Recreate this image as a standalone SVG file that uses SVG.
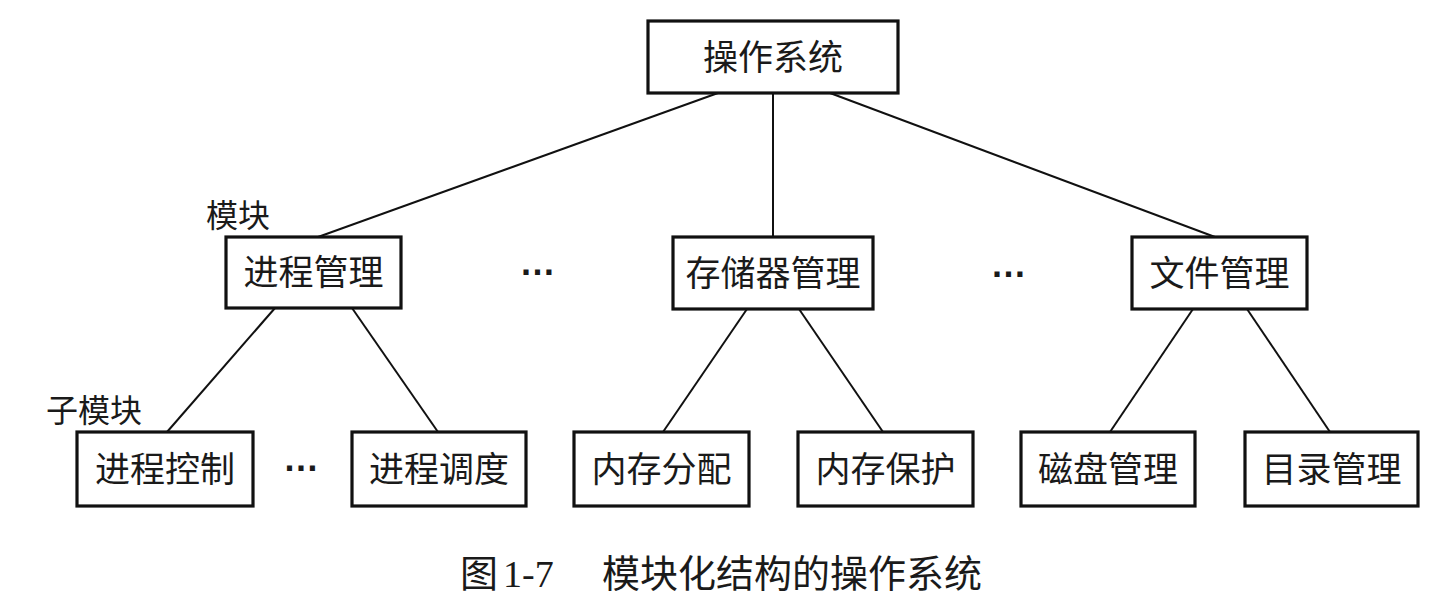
<svg xmlns="http://www.w3.org/2000/svg" width="1436" height="599" viewBox="0 0 1436 599">
  <style>
    .box { fill: #ffffff; stroke: #111111; stroke-width: 3.2; }
    .lbl { font-family: "Noto Sans CJK SC", "Noto Sans", sans-serif; font-size: 35px; fill: #1a1a1a; text-anchor: middle; }
    .tag { font-family: "Noto Sans CJK SC", "Noto Sans", sans-serif; font-size: 32px; fill: #1a1a1a; }
    .dots { font-family: "Liberation Sans", sans-serif; font-size: 36px; font-weight: bold; fill: #1a1a1a; text-anchor: middle; }
    .cap { font-family: "Noto Sans CJK SC", sans-serif; font-size: 38px; fill: #1a1a1a; }
    .capnum { font-family: "Liberation Serif", serif; font-size: 38px; fill: #1a1a1a; }
    .conn line { stroke: #111111; stroke-width: 2; }
  </style>
  <rect width="1436" height="599" fill="#ffffff"/>

  <g id="connectors" class="conn">
    <line x1="718" y1="93" x2="318" y2="237"/>
    <line x1="773" y1="93" x2="773" y2="237"/>
    <line x1="830" y1="93" x2="1215" y2="237"/>
    <line x1="275" y1="308" x2="167" y2="432"/>
    <line x1="352" y1="308" x2="438" y2="432"/>
    <line x1="747" y1="309" x2="663" y2="432"/>
    <line x1="799" y1="309" x2="883" y2="432"/>
    <line x1="1193" y1="309" x2="1110" y2="432"/>
    <line x1="1247" y1="309" x2="1330" y2="432"/>
  </g>

  <g id="os">
    <rect class="box" x="648" y="21" width="250" height="72"/>
    <text class="lbl" x="773" y="70">操作系统</text>
  </g>

  <g id="process-mgmt">
    <rect class="box" x="226" y="237" width="175" height="71"/>
    <text class="lbl" x="313.5" y="285">进程管理</text>
  </g>
  <g id="memory-mgmt">
    <rect class="box" x="673" y="237" width="200" height="72"/>
    <text class="lbl" x="773" y="286">存储器管理</text>
  </g>
  <g id="file-mgmt">
    <rect class="box" x="1132" y="237" width="175" height="72"/>
    <text class="lbl" x="1219.5" y="286">文件管理</text>
  </g>

  <g id="process-control">
    <rect class="box" x="77" y="432" width="176" height="74"/>
    <text class="lbl" x="165" y="482">进程控制</text>
  </g>
  <g id="process-sched">
    <rect class="box" x="352" y="432" width="174" height="74"/>
    <text class="lbl" x="439" y="482">进程调度</text>
  </g>
  <g id="mem-alloc">
    <rect class="box" x="574" y="432" width="175" height="74"/>
    <text class="lbl" x="661.5" y="482">内存分配</text>
  </g>
  <g id="mem-protect">
    <rect class="box" x="798" y="432" width="175" height="74"/>
    <text class="lbl" x="885.5" y="482">内存保护</text>
  </g>
  <g id="disk-mgmt">
    <rect class="box" x="1021" y="432" width="174" height="74"/>
    <text class="lbl" x="1108" y="482">磁盘管理</text>
  </g>
  <g id="dir-mgmt">
    <rect class="box" x="1245" y="432" width="173" height="74"/>
    <text class="lbl" x="1331.5" y="482">目录管理</text>
  </g>

  <g id="annotations">
    <text class="tag" x="206" y="227">模块</text>
    <text class="tag" x="46" y="422">子模块</text>
    <text class="dots" x="537.5" y="275">…</text>
    <text class="dots" x="1008.5" y="277">…</text>
    <text class="dots" x="301" y="471">…</text>
  </g>

  <g id="caption">
    <text class="cap" x="460" y="587">图</text>
    <text class="capnum" x="503" y="587">1-7</text>
    <text class="cap" x="602" y="587">模块化结构的操作系统</text>
  </g>
</svg>
